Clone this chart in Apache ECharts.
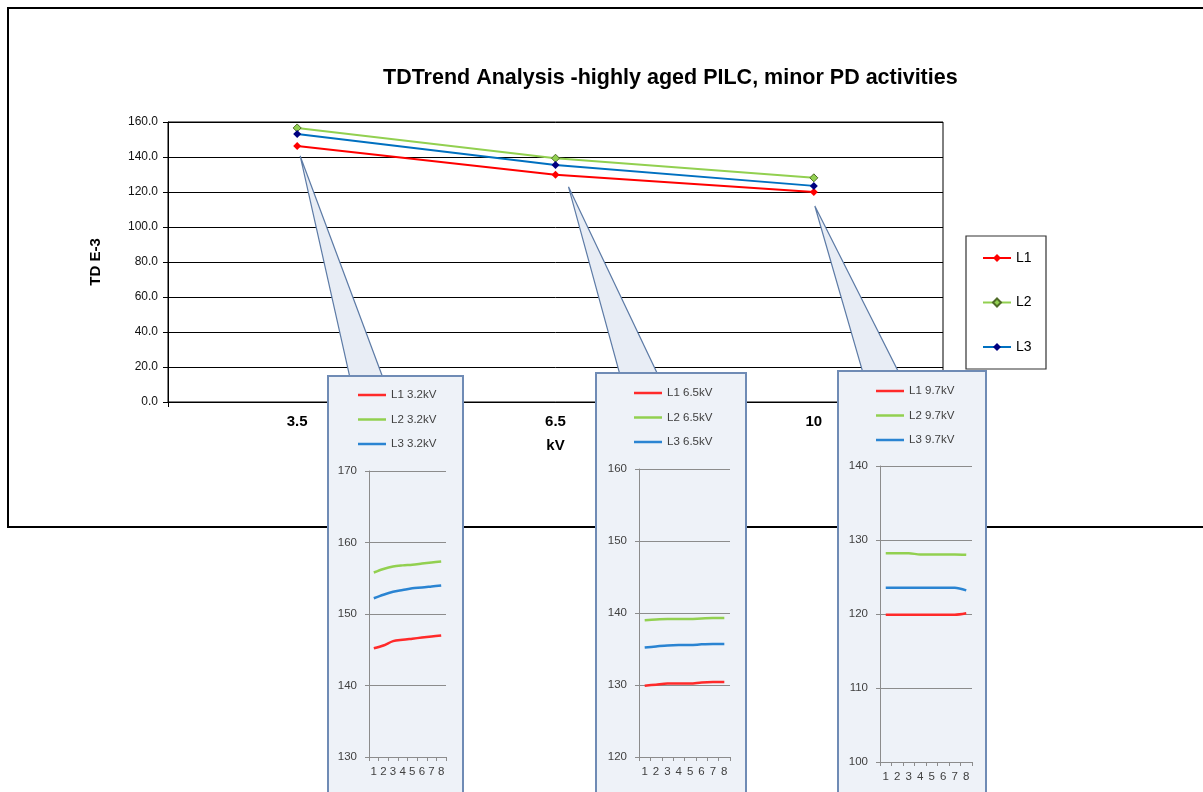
<!DOCTYPE html>
<html><head><meta charset="utf-8">
<script src="https://cdn.jsdelivr.net/npm/echarts@6/dist/echarts.min.js"></script>
<style>html,body{margin:0;padding:0;background:#fff}#c{width:1203px;height:792px}</style>
</head><body><div id="c"></div>
<script>
// ---------- data ----------
const voltages = ['3.5', '6.5', '10'];
const mainL1 = [146.3, 129.8, 120.0];
const mainL2 = [156.6, 139.3, 128.1];
const mainL3 = [153.1, 135.4, 123.5];

const sampleNo = ['1', '2', '3', '4', '5', '6', '7', '8'];
const l1At32 = [145.2, 145.6, 146.2, 146.4, 146.55, 146.7, 146.85, 147.0];
const l2At32 = [155.8, 156.3, 156.65, 156.8, 156.9, 157.05, 157.2, 157.35];
const l3At32 = [152.2, 152.7, 153.1, 153.35, 153.6, 153.7, 153.85, 154.0];
const l1At65 = [129.9, 130.05, 130.2, 130.2, 130.2, 130.35, 130.4, 130.4];
const l2At65 = [139.0, 139.1, 139.15, 139.15, 139.15, 139.25, 139.3, 139.3];
const l3At65 = [135.2, 135.35, 135.5, 135.55, 135.55, 135.65, 135.7, 135.7];
const l1At97 = [119.9, 119.9, 119.9, 119.9, 119.9, 119.9, 119.9, 120.1];
const l2At97 = [128.2, 128.2, 128.2, 128.05, 128.05, 128.05, 128.05, 128.0];
const l3At97 = [123.55, 123.55, 123.55, 123.55, 123.55, 123.55, 123.55, 123.2];
const insetLabels = ['3.2kV', '6.5kV', '9.7kV'];
const insetRanges = [[130, 170], [120, 160], [100, 140]];
const insetValues = [[l1At32, l2At32, l3At32], [l1At65, l2At65, l3At65], [l1At97, l2At97, l3At97]];

// ---------- layout / style ----------
const FONT = 'Liberation Sans, Arial, sans-serif';
const insetLayout = [
  {box: [328, 376, 135, 440], grid: [369, 471, 77, 286], legend: [358, 389], base: [22, 55], tip: [3, 10]},
  {box: [596, 373, 150, 440], grid: [639, 469, 91, 288], legend: [634, 387], base: [24, 62], tip: [13, 12]},
  {box: [838, 371, 148, 440], grid: [880, 466, 92, 296], legend: [876, 385], base: [25, 61], tip: [1, 14]}
];
const insetColors = ['#FF2A2A', '#92D050', '#2A84D2'];

const chart = echarts.init(document.getElementById('c'), null, {renderer: 'canvas'});

const grids = [{left: 168, top: 122, width: 775, height: 280, show: true, borderColor: '#000', borderWidth: 1, backgroundColor: 'transparent'}];
const xAxes = [{
  type: 'category', gridIndex: 0, data: voltages, boundaryGap: true,
  name: 'kV', nameLocation: 'middle', nameGap: 36,
  nameTextStyle: {fontFamily: FONT, fontWeight: 'bold', fontSize: 15, color: '#000'},
  axisLine: {lineStyle: {color: '#000', width: 1}},
  axisTick: {show: true, length: 5, lineStyle: {color: '#000'}},
  axisLabel: {fontFamily: FONT, fontWeight: 'bold', fontSize: 15, color: '#000', margin: 12}
}];
const yAxes = [{
  type: 'value', gridIndex: 0, min: 0, max: 160, interval: 20,
  name: 'TD E-3', nameLocation: 'middle', nameGap: 65,
  nameTextStyle: {fontFamily: FONT, fontWeight: 'bold', fontSize: 15, color: '#000'},
  axisLine: {show: true, lineStyle: {color: '#000', width: 1}},
  axisTick: {show: true, length: 5, lineStyle: {color: '#000'}},
  axisLabel: {fontFamily: FONT, fontSize: 12, color: '#111', margin: 10, formatter: v => v.toFixed(1)},
  splitLine: {show: true, lineStyle: {color: '#000', width: 1}}
}];
const series = [
  {name: 'L1', type: 'line', xAxisIndex: 0, yAxisIndex: 0, data: mainL1, symbol: 'diamond', symbolSize: 8,
   lineStyle: {color: '#FF0000', width: 2}, itemStyle: {color: '#FF0000'}},
  {name: 'L2', type: 'line', xAxisIndex: 0, yAxisIndex: 0, data: mainL2, symbol: 'diamond', symbolSize: 8,
   lineStyle: {color: '#92D050', width: 2}, itemStyle: {color: '#92D050', borderColor: '#4F6B28', borderWidth: 1}},
  {name: 'L3', type: 'line', xAxisIndex: 0, yAxisIndex: 0, data: mainL3, symbol: 'diamond', symbolSize: 8,
   lineStyle: {color: '#0070C0', width: 2}, itemStyle: {color: '#000080'}}
];
const legends = [{
  data: ['L1', 'L2', 'L3'], orient: 'vertical', left: 982, top: 251, padding: 0,
  itemWidth: 28, itemHeight: 10, itemGap: 30.5, itemTextGap: 3, selectedMode: false,
  textStyle: {fontFamily: FONT, fontSize: 14, color: '#000'}
}];

insetLayout.forEach((L, k) => {
  const gi = k + 1;
  grids.push({left: L.grid[0], top: L.grid[1], width: L.grid[2], height: L.grid[3], show: false});
  xAxes.push({
    type: 'category', gridIndex: gi, data: sampleNo, boundaryGap: true, z: 25,
    axisLine: {lineStyle: {color: '#8C8C8C', width: 1}},
    axisTick: {show: true, length: 4, interval: 0, lineStyle: {color: '#8C8C8C'}},
    axisLabel: {fontFamily: FONT, fontSize: 11.5, color: '#404040', margin: 9, interval: 0}
  });
  yAxes.push({
    type: 'value', gridIndex: gi, min: insetRanges[k][0], max: insetRanges[k][1], interval: 10, z: 25,
    axisLine: {show: true, lineStyle: {color: '#8C8C8C', width: 1}},
    axisTick: {show: true, length: 4, lineStyle: {color: '#8C8C8C'}},
    axisLabel: {fontFamily: FONT, fontSize: 11.5, color: '#404040', margin: 12},
    splitLine: {show: true, lineStyle: {color: '#8C8C8C', width: 1}}
  });
  const names = [];
  insetValues[k].forEach((vals, j) => {
    const nm = 'L' + (j + 1) + ' ' + insetLabels[k];
    names.push(nm);
    series.push({
      name: nm, type: 'line', xAxisIndex: gi, yAxisIndex: gi, data: vals, z: 30,
      symbol: 'none', smooth: 0.3,
      lineStyle: {color: insetColors[j], width: 2.5}, itemStyle: {color: insetColors[j]}
    });
  });
  legends.push({
    data: names, orient: 'vertical', left: L.legend[0], top: L.legend[1], z: 30, padding: 0,
    icon: 'rect', itemWidth: 28, itemHeight: 2.5, itemGap: 12.5, itemTextGap: 2, selectedMode: false,
    textStyle: {fontFamily: FONT, fontSize: 11.5, color: '#404040'}
  });
});

function staticGraphics() {
  const els = [
    {id: 'frame', type: 'rect', z: 0, silent: true, shape: {x: 8, y: 8, width: 1210, height: 519},
     style: {fill: 'none', stroke: '#000', lineWidth: 2}},
    {id: 'legbox', type: 'rect', z: 1, silent: true, shape: {x: 966, y: 236, width: 80, height: 133},
     style: {fill: 'none', stroke: '#333', lineWidth: 1.2}}
  ];
  insetLayout.forEach((L, k) => {
    els.push({id: 'box' + k, type: 'rect', z: 20, silent: true,
      shape: {x: L.box[0], y: L.box[1], width: L.box[2], height: L.box[3]},
      style: {fill: '#EEF2F8', stroke: '#6F8BB5', lineWidth: 2}});
  });
  return els;
}

chart.setOption({
  animation: false,
  backgroundColor: '#fff',
  title: {
    text: 'TDTrend Analysis -highly aged PILC, minor PD activities',
    left: 378, top: 62,
    textStyle: {fontFamily: FONT, fontWeight: 'bold', fontSize: 21.5, color: '#000'}
  },
  grid: grids, xAxis: xAxes, yAxis: yAxes, legend: legends, series: series,
  graphic: {elements: staticGraphics()}
});

// callouts pointing from each voltage's data to its inset
const els = staticGraphics();
insetLayout.forEach((L, k) => {
  const p = chart.convertToPixel({xAxisIndex: 0, yAxisIndex: 0}, [k, mainL1[k]]);
  const tip = [p[0] + L.tip[0], p[1] + L.tip[1]];
  els.push({id: 'call' + k, type: 'polygon', z: 15, silent: true,
    shape: {points: [tip, [L.box[0] + L.base[0], L.box[1] + 2], [L.box[0] + L.base[1], L.box[1] + 2]]},
    style: {fill: '#E8EDF5', stroke: '#5D7BA6', lineWidth: 1.2}});
});
chart.setOption({graphic: {elements: els}});
</script></body></html>
